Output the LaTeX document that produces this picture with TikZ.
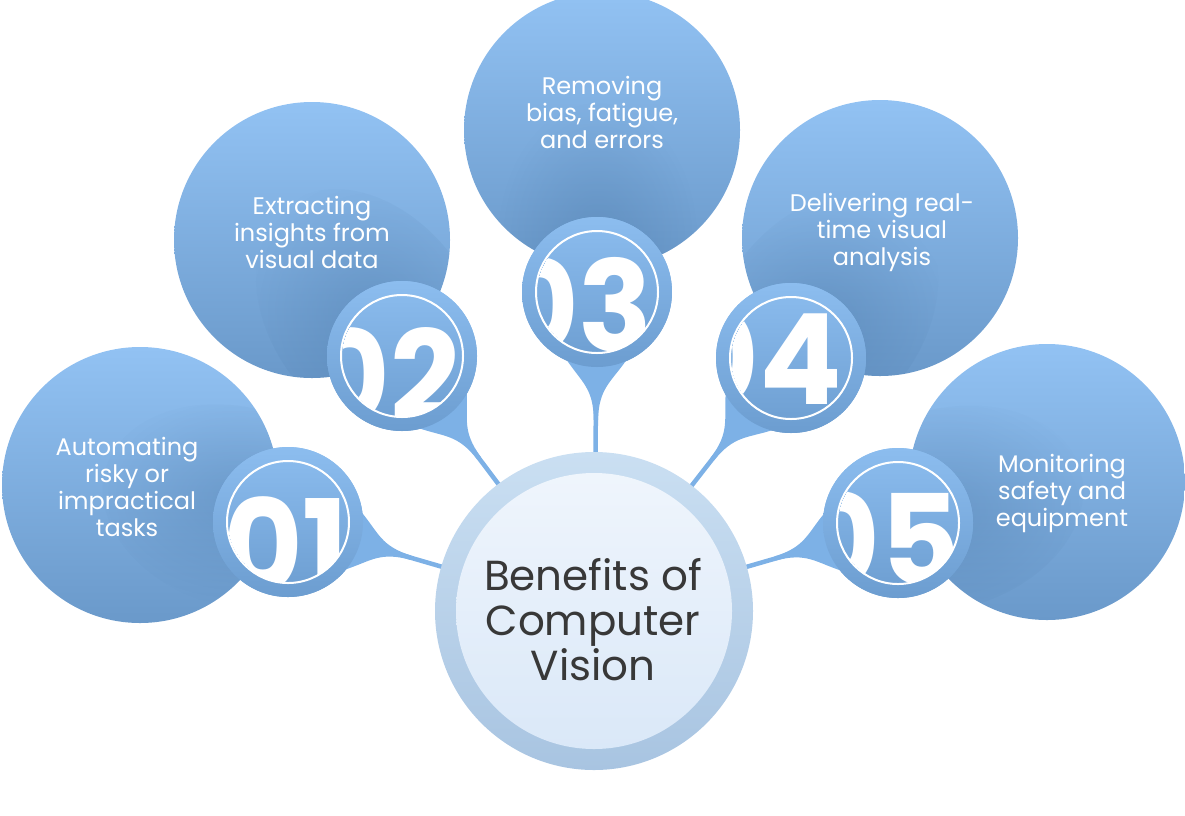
\documentclass[tikz,border=0pt]{standalone}
\usepackage{fontspec}
\setmainfont{Poppins}
\usetikzlibrary{fadings}
\definecolor{bigTop}{HTML}{92C2F3}
\definecolor{bigBot}{HTML}{6A99CA}
\definecolor{numTop}{HTML}{8CBDEF}
\definecolor{numBot}{HTML}{6C9DD0}
\definecolor{stemC}{HTML}{7DB1E6}
\definecolor{shadowC}{HTML}{2E5A88}
\definecolor{cOutTop}{HTML}{CADFF2}
\definecolor{cOutBot}{HTML}{A8C4E1}
\definecolor{cInTop}{HTML}{EFF5FC}
\definecolor{cInBot}{HTML}{DAE8F8}
\definecolor{darkT}{HTML}{383838}
\tikzfading[name=softfade, inner color=transparent!0, outer color=transparent!100]
\tikzset{
  bigc/.style={circle, minimum size=276pt, inner sep=0pt, top color=bigTop, bottom color=bigBot, draw=none},
  numc/.style={circle, minimum size=150pt, inner sep=0pt, top color=numTop, bottom color=numBot, draw=none},
  ringc/.style={draw=white, line width=2pt},
  lbl/.style={text=white, align=center, inner sep=0pt, font=\fontsize{24}{27}\selectfont},
  numtxt/.style={text=white, inner sep=0pt, anchor=base east, xscale=0.97, font=\fontsize{126}{126}\selectfont\bfseries},
  stemline/.style={draw=stemC, line width=4.5pt},
  stemfill/.style={fill=stemC},
  shade/.style={fill=shadowC, opacity=0.22, path fading=softfade},
}
\newcommand{\flare}[2]{%
  \begin{scope}[shift={(#1.center)}, rotate=#2]
    \fill[stemfill] (24:74pt) .. controls (90pt,15pt) and (96pt,2.5pt) .. (128pt,2.2pt)
      -- (128pt,-2.2pt) .. controls (96pt,-2.5pt) and (90pt,-15pt) .. (-24:74pt) -- cycle;
  \end{scope}}
\newcommand{\castshadow}[3]{%
  \begin{scope}
    \clip (#1.center) circle (138pt);
    \begin{scope}[shift={(#2.center)}, rotate=#3]
      \fill[shade] (-50pt,0pt) ellipse (140pt and 100pt);
    \end{scope}
  \end{scope}}
\begin{document}
\begin{tikzpicture}[x=1pt,y=-1pt]
\useasboundingbox (0,0) rectangle (1185,815);
% big circles
\node[bigc] (b1) at (140,485) {};
\node[bigc] (b2) at (312,240) {};
\node[bigc] (b3) at (602,130) {};
\node[bigc] (b4) at (880,238) {};
\node[bigc] (b5) at (1047,482) {};
% number circle positions
\coordinate (p1) at (288,522);
\coordinate (p2) at (402,356);
\coordinate (p3) at (597,292);
\coordinate (p4) at (791,358);
\coordinate (p5) at (898,523);
\castshadow{b1}{p1}{-16.2}
\castshadow{b2}{p2}{-53}
\castshadow{b3}{p3}{-90.5}
\castshadow{b4}{p4}{-127.9}
\castshadow{b5}{p5}{-163.9}
% labels
\node[lbl] (t1) at (127,487) {Automating\\risky or\\impractical\\tasks};
\node[lbl] (t2) at (312,232) {Extracting\\insights from\\visual data};
\node[lbl] (t3) at (602,112) {Removing\\bias, fatigue,\\and errors};
\node[lbl] (t4) at (882,232) {Delivering real-\\time visual\\analysis};
\node[lbl] (t5) at (1062,493) {Monitoring\\safety and\\equipment};
% number circles
\node[numc] (n1) at (p1) {};
\node[numc] (n2) at (p2) {};
\node[numc] (n3) at (p3) {};
\node[numc] (n4) at (p4) {};
\node[numc] (n5) at (p5) {};
% centre
\coordinate (cc) at (594,611);
% stems
\draw[stemline] (n1.center) -- (cc);
\draw[stemline] (n2.center) -- (cc);
\draw[stemline] (n3.center) -- (cc);
\draw[stemline] (n4.center) -- (cc);
\draw[stemline] (n5.center) -- (cc);
\flare{n1}{-16.2}
\flare{n2}{-53}
\flare{n3}{-90.5}
\flare{n4}{-127.9}
\flare{n5}{-163.9}
% number circles over stems
\node[numc] (m1) at (p1) {};
\node[numc] (m2) at (p2) {};
\node[numc] (m3) at (p3) {};
\node[numc] (m4) at (p4) {};
\node[numc] (m5) at (p5) {};
\foreach \k in {1,...,5} {\draw[ringc] (m\k.center) circle (61pt);}
\begin{scope}\clip (m1.center) circle (60pt); \node[numtxt] (d1) at (349,590) {01};\end{scope}
\begin{scope}\clip (m2.center) circle (60pt); \node[numtxt] (d2) at (460,421) {02};\end{scope}
\begin{scope}\clip (m3.center) circle (60pt); \node[numtxt] (d3) at (653,351) {03};\end{scope}
\begin{scope}\clip (m4.center) circle (60pt); \node[numtxt] (d4) at (842,404) {04};\end{scope}
\begin{scope}\clip (m5.center) circle (60pt); \node[numtxt] (d5) at (960,585) {05};\end{scope}
% centre circle
\node[circle, minimum size=318pt, inner sep=0pt, top color=cOutTop, bottom color=cOutBot] (c) at (cc) {};
\node[circle, minimum size=276pt, inner sep=0pt, top color=cInTop, bottom color=cInBot] (ci) at (c.center) {};
\node[text=darkT, align=center, inner sep=0pt, font=\fontsize{42}{45}\selectfont] (ct) at (593,620) {Benefits of\\Computer\\Vision};
\end{tikzpicture}
\end{document}
